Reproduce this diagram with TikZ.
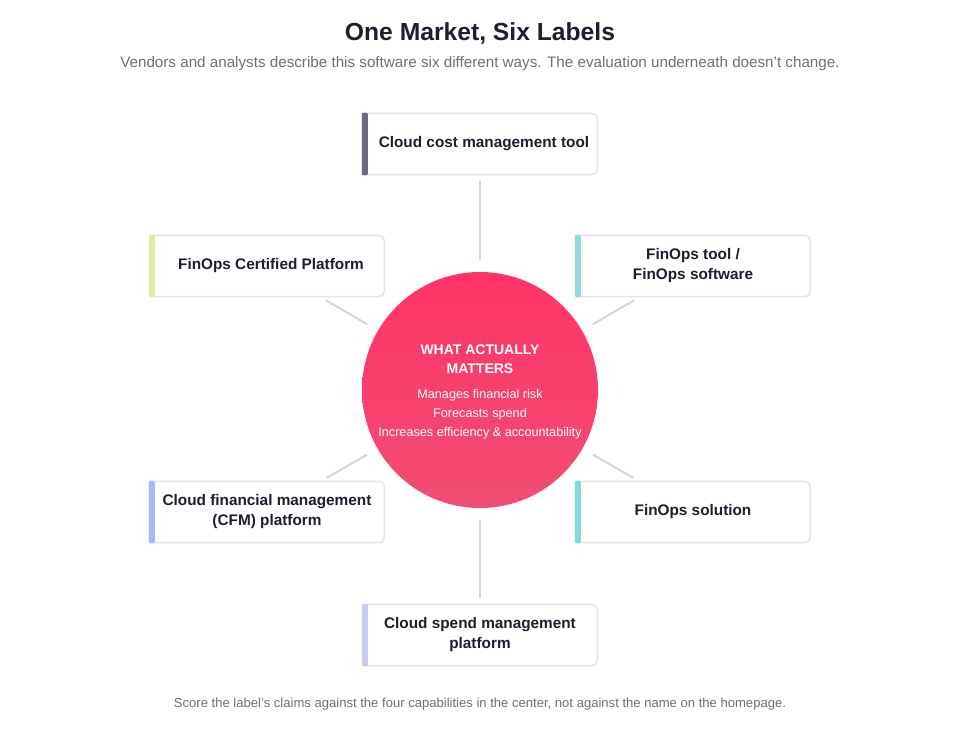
\documentclass[tikz,border=0pt]{standalone}
\usepackage{fontspec}
\setmainfont{Liberation Sans}
\usetikzlibrary{positioning, calc}
\definecolor{inkdark}{HTML}{1E1E2C}
\definecolor{inkgray}{HTML}{6E6E78}
\definecolor{boxline}{HTML}{E2E4EA}
\definecolor{spoke}{HTML}{D4D6DC}
\definecolor{hubtop}{HTML}{FF3366}
\definecolor{hubbot}{HTML}{F04E72}
\definecolor{barA}{HTML}{6B6A80}
\definecolor{barB}{HTML}{E2EBA2}
\definecolor{barC}{HTML}{92D9D7}
\definecolor{barD}{HTML}{A3BBF0}
\definecolor{barE}{HTML}{7FDCD4}
\definecolor{barF}{HTML}{C9CCF5}
\tikzset{
  label box/.style={draw=boxline, line width=1.2pt, fill=white, rounded corners=4pt,
    minimum width=176pt, minimum height=46pt, align=center,
    font=\fontsize{11.5}{15}\selectfont\bfseries, text=inkdark},
  spoke line/.style={draw=spoke, line width=1.5pt, shorten <=4pt, shorten >=9pt},
}
\newcommand{\accentbar}[2]{\fill[#2, rounded corners=1.5pt] ($(#1.north west)+(0,0)$) rectangle ($(#1.south west)+(4.5pt,0)$);}
\begin{document}
\begin{tikzpicture}[x=0.75pt,y=-0.75pt]
\useasboundingbox (0,0) rectangle (960,736);
% titles
\node[font=\fontsize{18.5}{22}\selectfont\bfseries, text=inkdark] (title) at (480,33) {One Market, Six Labels};
\node[font=\fontsize{11.4}{13}\selectfont, text=inkgray] (subtitle) at (480,64) {Vendors and analysts describe this software six different ways. The evaluation underneath doesn’t change.};
% hub
\node[circle, minimum size=177pt, inner sep=0pt, top color=hubtop, bottom color=hubbot] (hub) at (480,390) {};
\node[text=white, align=center, font=\fontsize{10.5}{14}\selectfont\bfseries] (hubhead) at (480,359) {WHAT ACTUALLY\\MATTERS};
\node[text=white, align=center, font=\fontsize{9.5}{14.2}\selectfont] (hublist) at (480,414) {Manages financial risk\\Forecasts spend\\Increases efficiency \& accountability};
% labels
\node[label box] (cost) at (480,144) {\hspace*{6pt}Cloud cost management tool};
\node[label box] (certified) at (267,266) {\hspace*{6pt}FinOps Certified Platform};
\node[label box] (tool) at (693,266) {FinOps tool /\\FinOps software};
\node[label box] (cfm) at (267,512) {Cloud financial management\\(CFM) platform};
\node[label box] (solution) at (693,512) {FinOps solution};
\node[label box] (spend) at (480,635) {Cloud spend management\\platform};
\accentbar{cost}{barA}
\accentbar{certified}{barB}
\accentbar{tool}{barC}
\accentbar{cfm}{barD}
\accentbar{solution}{barE}
\accentbar{spend}{barF}
% spokes
\foreach \b in {cost,certified,tool,cfm,solution,spend}
  \draw[spoke line] (\b) -- (hub);
% footnote
\node[font=\fontsize{9.8}{12}\selectfont, text=inkgray] (note) at (480,704) {Score the label’s claims against the four capabilities in the center, not against the name on the homepage.};
\end{tikzpicture}
\end{document}
